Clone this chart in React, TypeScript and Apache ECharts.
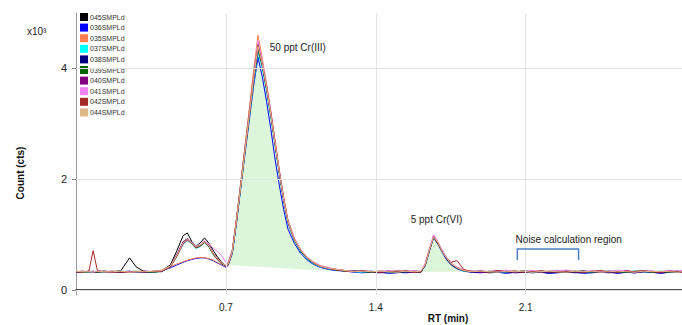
import React, { useEffect, useRef } from "react";
import * as echarts from "echarts";

// Retention time sampling points (min)
const rt = [
  0.00, 0.03, 0.06, 0.08, 0.10, 0.13, 0.17, 0.21, 0.25, 0.28, 0.32, 0.36, 0.40, 0.44,
  0.47, 0.50, 0.52, 0.54, 0.56, 0.58, 0.60, 0.62, 0.64, 0.66, 0.68, 0.70,
  0.71, 0.73, 0.75, 0.77, 0.79, 0.81, 0.83, 0.85, 0.87, 0.89, 0.91, 0.93, 0.95, 0.97, 0.99, 1.02, 1.05, 1.08, 1.11, 1.14, 1.18, 1.22,
  1.26, 1.30, 1.34, 1.38, 1.42, 1.46, 1.50, 1.54, 1.58, 1.61,
  1.63, 1.65, 1.67, 1.69, 1.71, 1.73, 1.75, 1.78, 1.81,
  1.85, 1.89, 1.93, 1.97, 2.01, 2.05, 2.09, 2.13, 2.17, 2.21, 2.25, 2.29, 2.33, 2.37, 2.41, 2.45, 2.49, 2.53, 2.57, 2.61, 2.65, 2.69, 2.73, 2.77, 2.81, 2.83,
];

// Counts (x10^3) per sample
const s045 = [
  0.33, 0.34, 0.32, 0.33, 0.32, 0.34, 0.33, 0.35, 0.58, 0.42, 0.33, 0.32, 0.35, 0.45,
  0.70, 0.98, 1.03, 0.88, 0.79, 0.85, 0.94, 0.85, 0.72, 0.60, 0.50, 0.44,
  0.47, 0.72, 1.30, 1.95, 2.60, 3.25, 3.90, 4.45, 4.10, 3.68, 3.20, 2.66, 2.12, 1.65, 1.24, 0.92, 0.71, 0.58, 0.49, 0.42, 0.38, 0.36,
  0.34, 0.35, 0.33, 0.32, 0.33, 0.34, 0.32, 0.33, 0.34, 0.33,
  0.44, 0.70, 0.96, 0.86, 0.71, 0.57, 0.47, 0.40, 0.35,
  0.33, 0.32, 0.34, 0.33, 0.32, 0.33, 0.34, 0.32, 0.33, 0.31, 0.33, 0.34, 0.32, 0.33, 0.32, 0.34, 0.33, 0.31, 0.33, 0.32, 0.34, 0.33, 0.32, 0.33, 0.34, 0.33,
];
const s036 = [
  0.32, 0.33, 0.33, 0.32, 0.34, 0.33, 0.32, 0.33, 0.33, 0.32, 0.34, 0.33, 0.35, 0.40,
  0.45, 0.50, 0.53, 0.55, 0.57, 0.58, 0.58, 0.56, 0.53, 0.49, 0.45, 0.41,
  0.45, 0.66, 1.22, 1.86, 2.48, 3.08, 3.70, 4.20, 3.85, 3.40, 2.90, 2.35, 1.88, 1.45, 1.10, 0.84, 0.66, 0.54, 0.46, 0.41, 0.37, 0.35,
  0.34, 0.32, 0.31, 0.33, 0.32, 0.30, 0.31, 0.33, 0.32, 0.33,
  0.43, 0.70, 0.94, 0.83, 0.68, 0.55, 0.46, 0.38, 0.34,
  0.32, 0.31, 0.33, 0.32, 0.30, 0.32, 0.33, 0.31, 0.32, 0.30, 0.31, 0.33, 0.32, 0.30, 0.31, 0.33, 0.32, 0.30, 0.32, 0.31, 0.33, 0.32, 0.30, 0.32, 0.33, 0.32,
];
const s035 = [
  0.33, 0.32, 0.34, 0.33, 0.33, 0.32, 0.34, 0.33, 0.32, 0.33, 0.33, 0.34, 0.36, 0.42,
  0.47, 0.51, 0.54, 0.56, 0.58, 0.59, 0.58, 0.57, 0.54, 0.50, 0.46, 0.42,
  0.46, 0.70, 1.30, 1.95, 2.62, 3.30, 3.98, 4.60, 4.18, 3.72, 3.22, 2.70, 2.16, 1.68, 1.26, 0.93, 0.72, 0.59, 0.50, 0.44, 0.40, 0.37,
  0.35, 0.34, 0.34, 0.33, 0.34, 0.33, 0.35, 0.33, 0.34, 0.33,
  0.46, 0.73, 0.98, 0.87, 0.71, 0.59, 0.49, 0.41, 0.36,
  0.34, 0.33, 0.32, 0.34, 0.33, 0.35, 0.32, 0.34, 0.33, 0.32, 0.34, 0.33, 0.35, 0.32, 0.33, 0.34, 0.32, 0.33, 0.35, 0.33, 0.32, 0.34, 0.33, 0.35, 0.33, 0.34,
];
const s037 = [
  0.33, 0.33, 0.32, 0.34, 0.33, 0.32, 0.33, 0.34, 0.33, 0.32, 0.33, 0.32, 0.34, 0.41,
  0.60, 0.82, 0.89, 0.84, 0.75, 0.78, 0.85, 0.78, 0.64, 0.55, 0.47, 0.43,
  0.45, 0.67, 1.24, 1.86, 2.50, 3.12, 3.76, 4.30, 4.00, 3.58, 3.12, 2.60, 2.08, 1.60, 1.20, 0.89, 0.69, 0.56, 0.47, 0.42, 0.38, 0.36,
  0.34, 0.33, 0.32, 0.34, 0.33, 0.32, 0.34, 0.32, 0.33, 0.32,
  0.44, 0.71, 0.95, 0.84, 0.69, 0.58, 0.48, 0.39, 0.34,
  0.33, 0.34, 0.32, 0.33, 0.32, 0.34, 0.33, 0.32, 0.34, 0.33, 0.32, 0.33, 0.34, 0.33, 0.32, 0.33, 0.34, 0.32, 0.33, 0.34, 0.32, 0.33, 0.34, 0.32, 0.33, 0.32,
];
const s038 = [
  0.32, 0.33, 0.33, 0.32, 0.33, 0.34, 0.32, 0.33, 0.34, 0.33, 0.32, 0.33, 0.33, 0.42,
  0.63, 0.86, 0.92, 0.87, 0.76, 0.80, 0.88, 0.80, 0.66, 0.56, 0.48, 0.43,
  0.44, 0.68, 1.26, 1.89, 2.53, 3.16, 3.82, 4.36, 4.06, 3.63, 3.16, 2.63, 2.11, 1.63, 1.23, 0.91, 0.70, 0.57, 0.48, 0.43, 0.39, 0.36,
  0.35, 0.33, 0.34, 0.32, 0.31, 0.33, 0.32, 0.31, 0.33, 0.32,
  0.45, 0.72, 0.97, 0.85, 0.70, 0.58, 0.48, 0.39, 0.35,
  0.32, 0.33, 0.31, 0.32, 0.33, 0.31, 0.32, 0.33, 0.32, 0.31, 0.32, 0.33, 0.31, 0.32, 0.33, 0.32, 0.31, 0.33, 0.32, 0.31, 0.33, 0.32, 0.31, 0.32, 0.33, 0.32,
];
const s039 = [
  0.33, 0.32, 0.33, 0.34, 0.32, 0.33, 0.33, 0.32, 0.33, 0.34, 0.33, 0.32, 0.34, 0.43,
  0.61, 0.84, 0.91, 0.85, 0.77, 0.80, 0.86, 0.79, 0.65, 0.56, 0.48, 0.44,
  0.46, 0.69, 1.25, 1.88, 2.52, 3.14, 3.80, 4.34, 4.05, 3.62, 3.15, 2.62, 2.10, 1.63, 1.22, 0.90, 0.70, 0.57, 0.48, 0.43, 0.39, 0.36,
  0.34, 0.35, 0.33, 0.32, 0.34, 0.33, 0.32, 0.34, 0.33, 0.32,
  0.45, 0.71, 0.96, 0.84, 0.70, 0.57, 0.47, 0.39, 0.35,
  0.33, 0.35, 0.32, 0.33, 0.34, 0.32, 0.35, 0.33, 0.32, 0.34, 0.33, 0.32, 0.33, 0.35, 0.32, 0.33, 0.34, 0.33, 0.32, 0.34, 0.35, 0.32, 0.33, 0.32, 0.34, 0.33,
];
const s040 = [
  0.33, 0.33, 0.34, 0.32, 0.33, 0.33, 0.34, 0.32, 0.33, 0.33, 0.32, 0.34, 0.34, 0.42,
  0.64, 0.87, 0.93, 0.86, 0.78, 0.81, 0.88, 0.81, 0.67, 0.57, 0.49, 0.43,
  0.45, 0.68, 1.26, 1.90, 2.54, 3.18, 3.82, 4.38, 4.07, 3.64, 3.17, 2.63, 2.11, 1.62, 1.22, 0.91, 0.71, 0.58, 0.49, 0.43, 0.39, 0.37,
  0.35, 0.34, 0.33, 0.34, 0.32, 0.33, 0.34, 0.33, 0.32, 0.33,
  0.46, 0.73, 0.98, 0.86, 0.71, 0.58, 0.48, 0.40, 0.35,
  0.34, 0.32, 0.33, 0.35, 0.33, 0.32, 0.33, 0.34, 0.32, 0.33, 0.35, 0.32, 0.33, 0.34, 0.33, 0.32, 0.34, 0.33, 0.35, 0.32, 0.33, 0.34, 0.32, 0.34, 0.33, 0.34,
];
const s041 = [
  0.33, 0.34, 0.33, 0.33, 0.34, 0.33, 0.32, 0.34, 0.33, 0.33, 0.34, 0.33, 0.35, 0.43,
  0.62, 0.84, 0.90, 0.86, 0.79, 0.82, 0.88, 0.84, 0.76, 0.70, 0.62, 0.50,
  0.50, 0.72, 1.28, 1.92, 2.58, 3.22, 3.88, 4.50, 4.14, 3.70, 3.20, 2.67, 2.14, 1.66, 1.25, 0.93, 0.72, 0.59, 0.50, 0.44, 0.40, 0.37,
  0.35, 0.34, 0.35, 0.33, 0.34, 0.35, 0.33, 0.34, 0.35, 0.34,
  0.47, 0.74, 1.00, 0.87, 0.72, 0.59, 0.49, 0.41, 0.36,
  0.34, 0.35, 0.33, 0.34, 0.36, 0.33, 0.34, 0.35, 0.33, 0.34, 0.35, 0.36, 0.33, 0.34, 0.35, 0.33, 0.34, 0.36, 0.34, 0.33, 0.35, 0.34, 0.33, 0.35, 0.34, 0.35,
];
const s042 = [
  0.33, 0.32, 0.34, 0.71, 0.35, 0.33, 0.32, 0.33, 0.32, 0.33, 0.34, 0.33, 0.34, 0.41,
  0.60, 0.83, 0.90, 0.85, 0.76, 0.79, 0.86, 0.79, 0.65, 0.55, 0.48, 0.44,
  0.46, 0.70, 1.28, 1.92, 2.56, 3.20, 3.86, 4.42, 4.08, 3.66, 3.18, 2.65, 2.13, 1.64, 1.23, 0.91, 0.71, 0.58, 0.49, 0.43, 0.39, 0.36,
  0.34, 0.33, 0.35, 0.33, 0.32, 0.34, 0.33, 0.35, 0.32, 0.33,
  0.44, 0.71, 0.95, 0.84, 0.69, 0.58, 0.50, 0.53, 0.37,
  0.33, 0.34, 0.32, 0.35, 0.33, 0.34, 0.32, 0.33, 0.35, 0.33, 0.32, 0.34, 0.33, 0.32, 0.34, 0.35, 0.33, 0.32, 0.34, 0.33, 0.35, 0.33, 0.32, 0.34, 0.33, 0.32,
];
const s044 = [
  0.34, 0.33, 0.33, 0.32, 0.34, 0.33, 0.33, 0.34, 0.32, 0.33, 0.33, 0.34, 0.35, 0.43,
  0.62, 0.85, 0.92, 0.86, 0.78, 0.81, 0.87, 0.80, 0.66, 0.57, 0.49, 0.44,
  0.46, 0.69, 1.27, 1.90, 2.54, 3.18, 3.84, 4.40, 4.08, 3.65, 3.17, 2.64, 2.12, 1.63, 1.23, 0.91, 0.71, 0.58, 0.49, 0.43, 0.39, 0.37,
  0.35, 0.33, 0.34, 0.33, 0.34, 0.33, 0.32, 0.34, 0.33, 0.34,
  0.45, 0.72, 0.96, 0.86, 0.70, 0.58, 0.48, 0.40, 0.35,
  0.33, 0.34, 0.33, 0.32, 0.34, 0.33, 0.34, 0.32, 0.33, 0.34, 0.33, 0.32, 0.34, 0.33, 0.34, 0.32, 0.33, 0.34, 0.33, 0.32, 0.34, 0.33, 0.34, 0.33, 0.32, 0.33,
];

const sampleNames = [
  "045SMPLd", "036SMPLd", "035SMPLd", "037SMPLd", "038SMPLd",
  "039SMPLd", "040SMPLd", "041SMPLd", "042SMPLd", "044SMPLd",
];
const sampleValues = [s045, s036, s035, s037, s038, s039, s040, s041, s042, s044];
const sampleColors = [
  "#000000", "#0000ff", "#ff7f50", "#00ffff", "#000080",
  "#006400", "#800080", "#ee82ee", "#a52a2a", "#deb887",
];

// Integrated peak regions: [start RT, end RT, baseline at start, baseline at end]
const peakRegions = [
  [0.71, 1.22, 0.45, 0.34],
  [1.61, 1.81, 0.33, 0.33],
];

// Annotations: [text, RT, count]
const annotations: [string, number, number][] = [
  ["50 ppt Cr(III)", 0.905, 4.37],
  ["5 ppt Cr(VI)", 1.563, 1.28],
  ["Noise calculation region", 2.053, 0.92],
];
// Noise region bracket: [start RT, end RT, top, foot]
const noiseBracket = [2.061, 2.347, 0.74, 0.54];

const xTicks = [0.7, 1.4, 2.1];
const yTicks = [0, 2, 4];

const FONT = '"Liberation Sans", Arial, sans-serif';

export default function App() {
  const ref = useRef<HTMLDivElement>(null);

  useEffect(() => {
    if (!ref.current) return;
    const chart = echarts.init(ref.current, undefined, { renderer: "svg" });
    const fillTrace = s038;

    const lineSeries = sampleNames.map((name, i) => ({
      type: "line",
      name,
      data: rt.map((x, j) => [x, sampleValues[i][j]]),
      symbol: "none",
      showSymbol: false,
      z: 3,
      lineStyle: { width: 1, color: sampleColors[i] },
      itemStyle: { color: sampleColors[i] },
    }));

    const option: any = {
      animation: false,
      backgroundColor: "#ffffff",
      grid: { left: 76, right: 0, top: 13, bottom: 30, containLabel: false },
      xAxis: {
        type: "value",
        min: 0,
        max: 2.83,
        axisLine: { show: true, lineStyle: { color: "#111", width: 1.5 } },
        axisTick: { show: true, customValues: xTicks, length: 3, lineStyle: { color: "#999" } },
        axisLabel: {
          customValues: xTicks,
          fontSize: 10,
          color: "#222",
          fontFamily: FONT,
          margin: 7,
          formatter: (v: number) => v.toFixed(1),
        },
        splitLine: { show: false },
      },
      yAxis: {
        type: "value",
        min: -0.09,
        max: 5.0,
        axisLine: { show: true, lineStyle: { color: "#999", width: 1 } },
        axisTick: { show: true, customValues: yTicks, length: 4, lineStyle: { color: "#888" } },
        axisLabel: {
          customValues: yTicks,
          fontSize: 11,
          color: "#222",
          fontFamily: FONT,
          margin: 9,
        },
        splitLine: { show: false },
      },
      legend: {
        data: sampleNames,
        orient: "vertical",
        left: 80,
        top: 13,
        padding: 0,
        itemWidth: 8,
        itemHeight: 8,
        itemGap: 2.6,
        icon: "rect",
        textStyle: { fontSize: 7, color: "#333", fontFamily: FONT, padding: [0, 0, 0, -3] },
      },
      graphic: [
        {
          type: "text",
          left: 27,
          top: 26,
          style: { text: "x10³", fontSize: 10, fill: "#222", fontFamily: FONT },
        },
        {
          type: "text",
          x: 20,
          y: 173,
          rotation: Math.PI / 2,
          style: {
            text: "Count (cts)",
            fontSize: 10,
            fontWeight: "bold",
            fill: "#111",
            fontFamily: FONT,
            align: "center",
            verticalAlign: "middle",
          },
        },
        {
          type: "text",
          x: 448,
          y: 318,
          style: {
            text: "RT (min)",
            fontSize: 10,
            fontWeight: "bold",
            fill: "#111",
            fontFamily: FONT,
            align: "center",
            verticalAlign: "middle",
          },
        },
      ],
      series: [
        {
          type: "line",
          name: "grid",
          data: [],
          z: 0,
          silent: true,
          markLine: {
            silent: true,
            symbol: "none",
            label: { show: false },
            lineStyle: { color: "#e3e3e3", width: 1, type: "solid" },
            data: [
              ...xTicks.map((v) => ({ xAxis: v })),
              ...yTicks.map((v) => ({ yAxis: v })),
            ],
          },
        },
        {
          type: "custom",
          name: "fill",
          z: 1,
          silent: true,
          data: peakRegions.map((r) => [r[0], r[2]]),
          renderItem: (params: any, api: any) => {
            const r = peakRegions[params.dataIndex];
            const pts: number[][] = [];
            rt.forEach((x, j) => {
              if (x >= r[0] - 1e-9 && x <= r[1] + 1e-9) pts.push(api.coord([x, fillTrace[j]]));
            });
            pts.push(api.coord([r[1], r[3]]));
            pts.push(api.coord([r[0], r[2]]));
            return {
              type: "polygon",
              shape: { points: pts },
              style: { fill: "#dbf6db", stroke: "none" },
            };
          },
        },
        ...lineSeries,
        {
          type: "custom",
          name: "annotations",
          z: 5,
          silent: true,
          data: annotations.map((a) => [a[1], a[2]]),
          renderItem: (params: any, api: any) => {
            const a = annotations[params.dataIndex];
            const p = api.coord([a[1], a[2]]);
            return {
              type: "text",
              x: p[0],
              y: p[1],
              style: {
                text: a[0],
                fontSize: 10,
                fill: "#222",
                fontFamily: FONT,
                align: "left",
                verticalAlign: "middle",
              },
            };
          },
        },
        {
          type: "custom",
          name: "bracket",
          z: 5,
          silent: true,
          data: [[noiseBracket[0], noiseBracket[2]]],
          renderItem: (_params: any, api: any) => {
            const [x0, x1, top, foot] = noiseBracket;
            return {
              type: "polyline",
              shape: {
                points: [
                  api.coord([x0, foot]),
                  api.coord([x0, top]),
                  api.coord([x1, top]),
                  api.coord([x1, foot]),
                ],
              },
              style: { stroke: "#4a7fc4", lineWidth: 1.5, fill: "none" },
            };
          },
        },
      ],
    };

    chart.setOption(option);
    return () => chart.dispose();
  }, []);

  return (
    <div
      ref={ref}
      style={{ position: "absolute", left: 0, top: 0, width: 682, height: 325, background: "#fff" }}
    />
  );
}
